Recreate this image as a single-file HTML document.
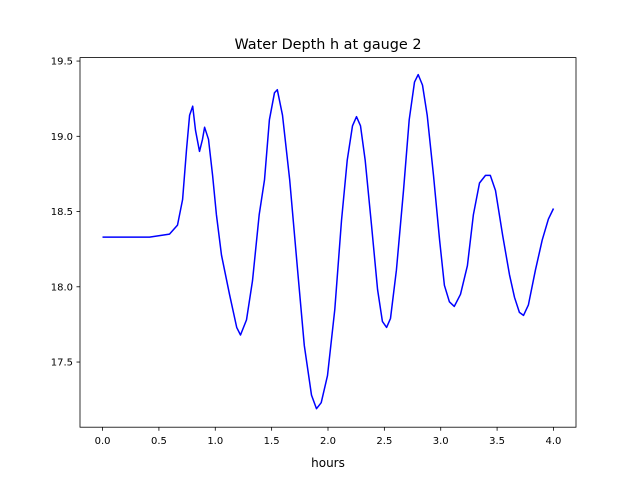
<!DOCTYPE html>
<html><head><meta charset="utf-8"><style>body{margin:0;background:#fff}svg{display:block;font-family:"DejaVu Sans","Liberation Sans",sans-serif}</style></head>
<body>
<svg id="chart" width="640" height="480">
<rect width="640" height="480" fill="#fff"/>
<text x="328" y="49" font-size="14.4" text-anchor="middle">Water Depth h at gauge 2</text>
<text x="328" y="467" font-size="12" text-anchor="middle">hours</text>
<g id="plot"></g>
</svg>
<script>
const hours=[0,0.417,0.594,0.665,0.71,0.745,0.772,0.80,0.825,0.86,0.887,0.905,0.94,0.976,1.01,1.055,1.126,1.19,1.224,1.277,1.33,1.39,1.437,1.48,1.525,1.55,1.596,1.66,1.73,1.79,1.854,1.898,1.94,1.996,2.06,2.12,2.17,2.217,2.253,2.288,2.33,2.386,2.44,2.483,2.52,2.554,2.607,2.67,2.72,2.767,2.80,2.838,2.88,2.936,2.99,3.033,3.077,3.12,3.175,3.237,3.29,3.344,3.397,3.44,3.486,3.55,3.61,3.654,3.698,3.734,3.778,3.84,3.90,3.955,4.0];
const depth=[18.33,18.33,18.35,18.41,18.58,18.91,19.14,19.20,19.04,18.90,18.98,19.06,18.98,18.74,18.48,18.21,17.95,17.73,17.68,17.78,18.04,18.48,18.71,19.11,19.29,19.31,19.14,18.71,18.11,17.61,17.28,17.19,17.23,17.41,17.85,18.44,18.84,19.07,19.13,19.07,18.84,18.41,17.98,17.77,17.73,17.79,18.11,18.64,19.11,19.36,19.41,19.34,19.14,18.74,18.31,18.01,17.90,17.87,17.95,18.14,18.48,18.69,18.74,18.74,18.64,18.34,18.08,17.93,17.83,17.81,17.88,18.11,18.31,18.45,18.52];
const xTicks=[0,0.5,1,1.5,2,2.5,3,3.5,4];
const yTicks=[17.5,18,18.5,19,19.5];
const L=80,R=576,T=57.6,B=427.2;
const xmin=-0.2,xmax=4.2,ymin=17.067,ymax=19.523;
const sx=v=>L+(v-xmin)/(xmax-xmin)*(R-L);
const sy=v=>B-(v-ymin)/(ymax-ymin)*(B-T);
const NS="http://www.w3.org/2000/svg";
const g=document.getElementById('plot');
function mk(t,a){const e=document.createElementNS(NS,t);for(const k in a)e.setAttribute(k,a[k]);g.appendChild(e);return e;}
xTicks.forEach(v=>{const x=sx(v);
 const l=mk('line',{x1:x,x2:x,y1:B,y2:B+3.5,stroke:'#000','stroke-width':0.8});
 
 
 const t=mk('text',{x:x,y:B+17,'font-size':10,'text-anchor':'middle'});t.textContent=v.toFixed(1);
 
 });
yTicks.forEach(v=>{const y=sy(v);
 const l=mk('line',{x1:L-3.5,x2:L,y1:y,y2:y,stroke:'#000','stroke-width':0.8});
 
 
 const t=mk('text',{x:L-7,y:y+3.5,'font-size':10,'text-anchor':'end'});t.textContent=v.toFixed(1);
 
 });
const pts=hours.map((h,i)=>sx(h).toFixed(1)+','+sy(depth[i]).toFixed(1)).join(' ');
const line=mk('polyline',{points:pts,fill:'none',stroke:'#0000ff','stroke-width':1.5,'stroke-linejoin':'round'});


const fr=mk('rect',{x:L,y:T,width:R-L,height:B-T,fill:'none',stroke:'#000','stroke-width':0.8});


</script>
</body></html>
